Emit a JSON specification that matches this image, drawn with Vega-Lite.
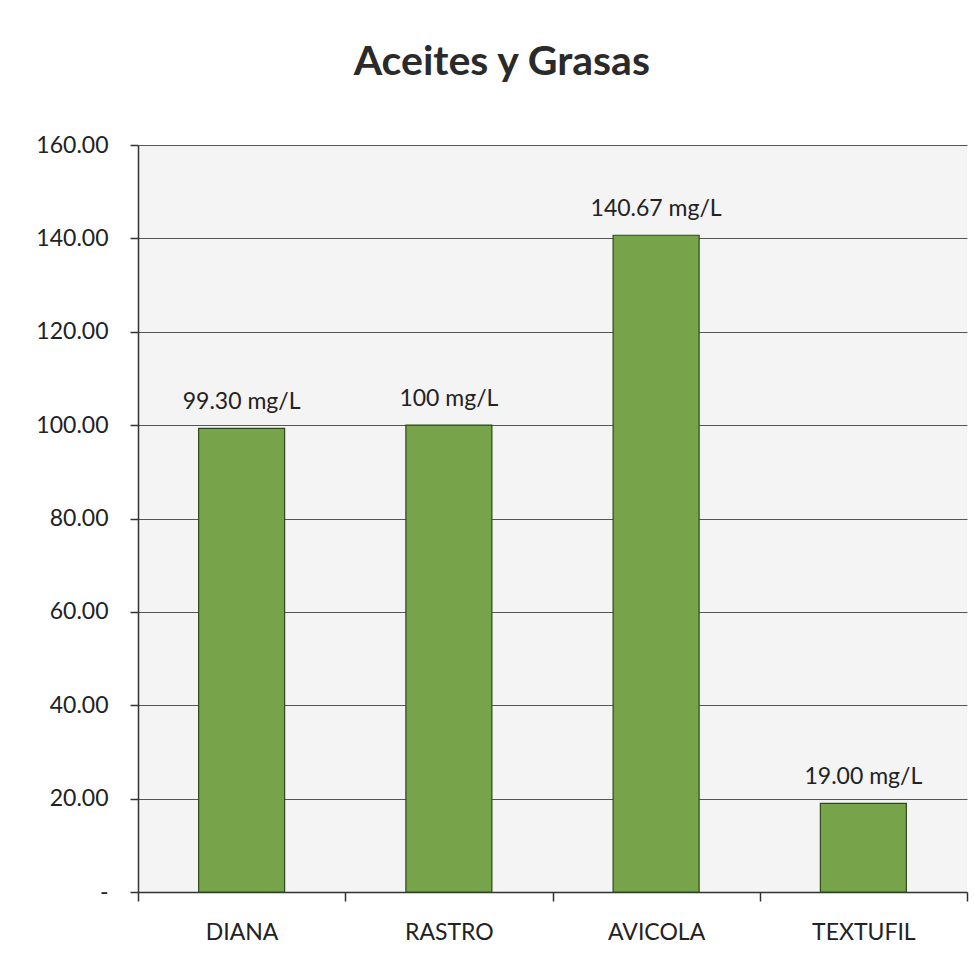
{
  "$schema": "https://vega.github.io/schema/vega-lite/v6.json",
  "autosize": {"type": "none"},
  "width": 829,
  "height": 747,
  "padding": {"left": 138, "top": 145, "right": 7, "bottom": 84},
  "background": "#ffffff",
  "title": {
    "text": "Aceites y Grasas",
    "font": "Lato",
    "fontSize": 41,
    "fontWeight": "bold",
    "color": "#2a2a2a",
    "frame": "bounds",
    "anchor": "middle",
    "offset": 50
  },
  "data": {
    "values": [
      {"planta": "DIANA", "valor": 99.30, "etiqueta": "99.30 mg/L"},
      {"planta": "RASTRO", "valor": 100, "etiqueta": "100 mg/L"},
      {"planta": "AVICOLA", "valor": 140.67, "etiqueta": "140.67 mg/L"},
      {"planta": "TEXTUFIL", "valor": 19.00, "etiqueta": "19.00 mg/L"}
    ]
  },
  "encoding": {
    "x": {
      "field": "planta",
      "type": "nominal",
      "sort": null,
      "scale": {"paddingInner": 0, "paddingOuter": 0},
      "axis": {
        "title": null,
        "labelAngle": 0,
        "labelFont": "Lato",
        "labelFontSize": 23,
        "labelColor": "#222222",
        "labelPadding": 20,
        "tickBand": "extent",
        "tickSize": 9,
        "tickColor": "#333333",
        "tickWidth": 1.5,
        "domainColor": "#333333",
        "domainWidth": 1.5,
        "grid": false
      }
    },
    "y": {
      "field": "valor",
      "type": "quantitative",
      "scale": {"domain": [0, 160], "nice": false},
      "axis": {
        "title": null,
        "values": [0, 20, 40, 60, 80, 100, 120, 140, 160],
        "labelExpr": "datum.value == 0 ? '-' : format(datum.value, '.2f')",
        "labelFont": "Lato",
        "labelFontSize": 23,
        "labelColor": "#222222",
        "labelPadding": 22,
        "tickSize": 8,
        "tickColor": "#333333",
        "tickWidth": 1.5,
        "domain": true,
        "domainColor": "#333333",
        "domainWidth": 1.5,
        "grid": true,
        "gridColor": "#555555",
        "gridWidth": 1.2
      }
    }
  },
  "layer": [
    {
      "mark": {
        "type": "bar",
        "width": {"band": 0.415},
        "color": "#77a34a",
        "stroke": "#2d4a1c",
        "strokeWidth": 1.2
      }
    },
    {
      "mark": {
        "type": "text",
        "dy": -26,
        "font": "Lato",
        "fontSize": 23,
        "color": "#222222"
      },
      "encoding": {"text": {"field": "etiqueta"}}
    }
  ],
  "config": {
    "view": {"fill": "#f4f4f4", "stroke": null}
  }
}
